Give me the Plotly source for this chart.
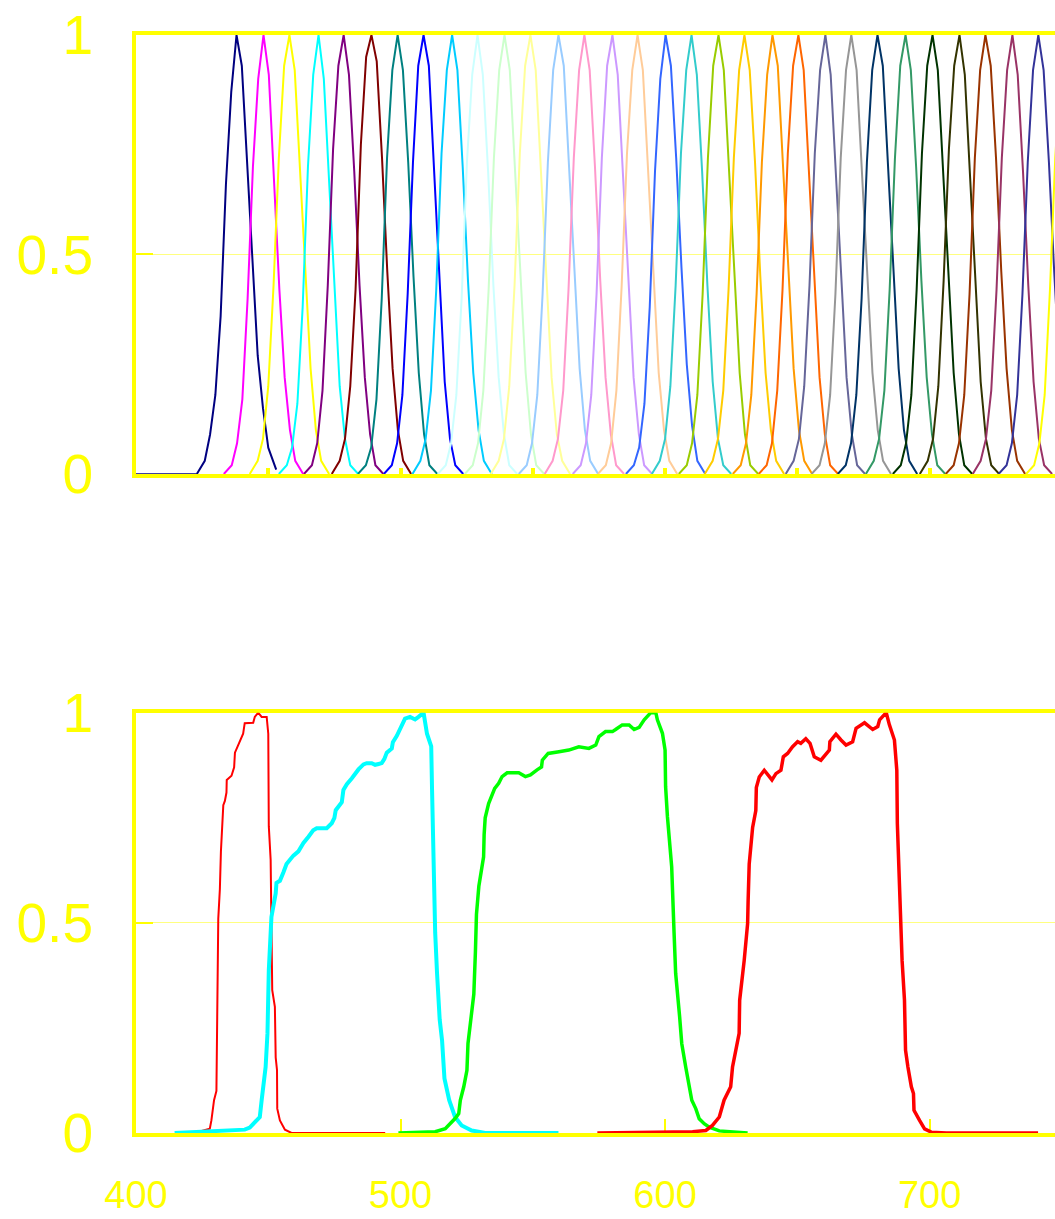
import plotly.graph_objects as go

# ---------------------------------------------------------------------------
# Upper panel: narrow-band filter set (peak wavelength, colour, transmission)
# ---------------------------------------------------------------------------
band_peak_nm = [438.0, 448.2, 458.0, 469.0, 478.5, 489.0, 498.9, 508.7, 519.5, 529.1,
                539.3, 549.1, 559.7, 569.5, 580.1, 589.6, 600.2, 610.0, 620.2, 630.0,
                640.6, 650.4, 660.6, 670.4, 680.3, 690.9, 701.1, 711.3, 721.1, 731.3,
                741.1, 751.5]

band_colors = ["#000080", "#FF00FF", "#FFFF00", "#00FFFF", "#800080", "#800000",
               "#008080", "#0000FF", "#00CCFF", "#CCFFFF", "#CCFFCC", "#FFFF99",
               "#99CCFF", "#FF99CC", "#CC99FF", "#FFCC99", "#3366FF", "#33CCCC",
               "#99CC00", "#FFCC00", "#FF9900", "#FF6600", "#666699", "#969696",
               "#003366", "#339966", "#003300", "#333300", "#993300", "#993366",
               "#333399", "#FFFF00"]

# sampling positions relative to each band's peak (nm)
band_offset_nm = [-15, -12, -10, -8, -6, -4, -2, 0, 2, 4, 6, 8, 10, 12, 15]

band_transmission = [
    [0, 0.03, 0.09, 0.18, 0.36, 0.66, 0.87, 1, 0.93, 0.70, 0.47, 0.27, 0.15, 0.06, 0.01],
    [0, 0.02, 0.07, 0.17, 0.40, 0.70, 0.90, 1, 0.91, 0.67, 0.42, 0.22, 0.10, 0.03, 0],
    [0, 0.03, 0.08, 0.20, 0.43, 0.72, 0.93, 1, 0.92, 0.70, 0.45, 0.24, 0.10, 0.03, 0],
    [0, 0.02, 0.06, 0.16, 0.38, 0.70, 0.91, 1, 0.90, 0.66, 0.41, 0.20, 0.08, 0.02, 0],
    [0, 0.02, 0.07, 0.19, 0.43, 0.74, 0.93, 1, 0.91, 0.69, 0.43, 0.22, 0.09, 0.02, 0],
    [0, 0.03, 0.08, 0.20, 0.42, 0.75, 0.95, 1, 0.94, 0.72, 0.46, 0.24, 0.10, 0.03, 0],
    [0, 0.02, 0.06, 0.17, 0.40, 0.72, 0.92, 1, 0.92, 0.71, 0.45, 0.23, 0.09, 0.02, 0],
    [0, 0.02, 0.07, 0.18, 0.41, 0.71, 0.93, 1, 0.93, 0.70, 0.44, 0.21, 0.08, 0.02, 0],
    [0, 0.03, 0.08, 0.19, 0.42, 0.73, 0.92, 1, 0.92, 0.70, 0.44, 0.23, 0.10, 0.03, 0],
    [0, 0.02, 0.07, 0.18, 0.40, 0.71, 0.91, 1, 0.91, 0.69, 0.43, 0.22, 0.09, 0.02, 0],
    [0, 0.02, 0.07, 0.19, 0.42, 0.72, 0.92, 1, 0.92, 0.70, 0.45, 0.23, 0.09, 0.02, 0],
    [0, 0.03, 0.08, 0.20, 0.43, 0.73, 0.93, 1, 0.92, 0.69, 0.44, 0.22, 0.09, 0.03, 0],
    [0, 0.02, 0.07, 0.18, 0.41, 0.71, 0.92, 1, 0.93, 0.71, 0.46, 0.24, 0.10, 0.03, 0],
    [0, 0.03, 0.08, 0.19, 0.42, 0.72, 0.92, 1, 0.92, 0.70, 0.44, 0.22, 0.09, 0.02, 0],
    [0, 0.02, 0.07, 0.18, 0.41, 0.72, 0.93, 1, 0.91, 0.68, 0.43, 0.22, 0.09, 0.02, 0],
    [0, 0.02, 0.07, 0.19, 0.43, 0.73, 0.92, 1, 0.92, 0.70, 0.45, 0.23, 0.10, 0.03, 0],
    [0, 0.02, 0.06, 0.16, 0.38, 0.69, 0.90, 1, 0.93, 0.72, 0.47, 0.25, 0.11, 0.03, 0],
    [0, 0.03, 0.08, 0.20, 0.43, 0.73, 0.92, 1, 0.91, 0.69, 0.43, 0.21, 0.08, 0.02, 0],
    [0, 0.02, 0.07, 0.18, 0.41, 0.72, 0.93, 1, 0.92, 0.70, 0.45, 0.23, 0.09, 0.02, 0],
    [0, 0.03, 0.08, 0.19, 0.42, 0.72, 0.92, 1, 0.92, 0.71, 0.45, 0.23, 0.10, 0.03, 0],
    [0, 0.02, 0.07, 0.18, 0.41, 0.71, 0.91, 1, 0.93, 0.71, 0.46, 0.24, 0.10, 0.03, 0],
    [0, 0.02, 0.07, 0.19, 0.42, 0.73, 0.93, 1, 0.92, 0.69, 0.44, 0.22, 0.09, 0.02, 0],
    [0, 0.03, 0.08, 0.20, 0.43, 0.73, 0.92, 1, 0.91, 0.69, 0.44, 0.22, 0.09, 0.02, 0],
    [0, 0.02, 0.07, 0.18, 0.41, 0.72, 0.92, 1, 0.92, 0.70, 0.45, 0.23, 0.10, 0.03, 0],
    [0, 0.02, 0.07, 0.18, 0.40, 0.71, 0.92, 1, 0.93, 0.71, 0.46, 0.24, 0.10, 0.03, 0],
    [0, 0.03, 0.08, 0.19, 0.42, 0.72, 0.93, 1, 0.92, 0.70, 0.44, 0.22, 0.09, 0.02, 0],
    [0, 0.02, 0.07, 0.18, 0.42, 0.73, 0.93, 1, 0.92, 0.70, 0.45, 0.23, 0.09, 0.02, 0],
    [0, 0.03, 0.08, 0.20, 0.44, 0.74, 0.93, 1, 0.91, 0.68, 0.43, 0.21, 0.08, 0.02, 0],
    [0, 0.02, 0.07, 0.18, 0.41, 0.72, 0.92, 1, 0.93, 0.72, 0.46, 0.24, 0.10, 0.03, 0],
    [0, 0.03, 0.08, 0.19, 0.42, 0.72, 0.92, 1, 0.91, 0.69, 0.43, 0.21, 0.08, 0.02, 0],
    [0, 0.02, 0.07, 0.18, 0.41, 0.71, 0.92, 1, 0.92, 0.71, 0.46, 0.24, 0.10, 0.03, 0],
    [0, 0.02, 0.07, 0.18, 0.42, 0.72, 0.92, 1, 0.92, 0.70, 0.45, 0.23, 0.09, 0.02, 0],
]

# flat zero baseline of the first band, running in from the left edge
band1_lead_nm = [400.0, 423.0]
band1_lead_t = [0.0, 0.0]

# ---------------------------------------------------------------------------
# Lower panel: four broad-band filters
# ---------------------------------------------------------------------------
f445_nm = [424.8, 427.9, 428.5, 429.5, 430.4, 430.7, 431.1, 431.7, 432.1, 433.0,
           433.6, 434.2, 434.3, 436.1, 437.1, 437.4, 438.4, 440.5, 441.1, 444.3,
           444.9, 446.2, 447.5, 449.4, 450.0, 450.2, 450.9, 451.2, 451.5, 452.5,
           452.8, 453.3, 453.4, 454.4, 456.3, 458.8, 494.2]
f445_t = [0.005, 0.01, 0.03, 0.078, 0.10, 0.24, 0.51, 0.58, 0.67, 0.78,
          0.79, 0.81, 0.84, 0.85, 0.87, 0.905, 0.92, 0.95, 0.975, 0.976,
          0.99, 1.0, 0.99, 0.99, 0.95, 0.73, 0.65, 0.52, 0.34, 0.30,
          0.18, 0.15, 0.058, 0.03, 0.008, 0.0, 0.0]

f505_nm = [414.6, 437.3, 441.1, 443.0, 444.3, 446.8, 447.5, 449.0, 449.7, 450.2,
           451.2, 451.9, 452.8, 453.1, 454.4, 455.7, 456.9, 458.2, 459.5, 461.4,
           463.3, 465.2, 467.0, 468.3, 472.1, 474.0, 475.0, 475.5, 477.8, 478.4,
           479.7, 481.6, 482.2, 484.1, 486.0, 487.2, 489.1, 490.4, 491.7, 492.9,
           493.9, 494.8, 496.7, 497.1, 498.6, 499.5, 500.5, 501.7, 503.6, 505.5,
           506.8, 508.7, 510.0, 511.6, 511.9, 512.5, 512.9, 513.1, 513.8, 514.8,
           515.7, 516.6, 518.4, 520.6, 523.1, 526.9, 532.0, 559.7]
f505_t = [0.0, 0.005, 0.008, 0.013, 0.022, 0.038, 0.078, 0.157, 0.237, 0.387,
          0.514, 0.538, 0.57, 0.595, 0.60, 0.62, 0.64, 0.65, 0.66, 0.67,
          0.69, 0.705, 0.72, 0.725, 0.725, 0.737, 0.75, 0.768, 0.787, 0.816,
          0.83, 0.844, 0.85, 0.865, 0.877, 0.88, 0.88, 0.876, 0.878, 0.88,
          0.89, 0.905, 0.915, 0.93, 0.945, 0.957, 0.97, 0.986, 0.99, 0.984,
          0.99, 1.0, 0.95, 0.92, 0.82, 0.65, 0.514, 0.476, 0.38, 0.27,
          0.22, 0.13, 0.078, 0.038, 0.018, 0.006, 0.0, 0.0]

f590_nm = [499.2, 513.1, 516.9, 519.4, 520.7, 522.0, 522.6, 523.9, 525.1, 525.5,
           526.4, 527.7, 528.3, 528.7, 529.6, 531.4, 531.6, 532.0, 533.3, 534.6,
           535.6, 537.1, 538.4, 540.3, 544.7, 547.2, 549.1, 551.6, 553.3, 553.6,
           555.8, 559.9, 563.6, 567.4, 571.2, 573.8, 575.0, 577.5, 580.1, 581.3,
           583.8, 586.4, 588.3, 590.2, 592.1, 594.6, 596.5, 597.1, 599.0, 600.0,
           600.2, 600.9, 601.5, 602.5, 603.4, 604.0, 605.5, 606.3, 607.8, 609.1,
           610.1, 611.6, 612.9, 614.8, 616.7, 620.5, 629.3, 631.2]
f590_t = [0.0, 0.003, 0.01, 0.026, 0.035, 0.046, 0.078, 0.11, 0.149, 0.213,
          0.268, 0.33, 0.43, 0.52, 0.587, 0.657, 0.71, 0.75, 0.784, 0.808,
          0.82, 0.832, 0.848, 0.857, 0.857, 0.848, 0.852, 0.864, 0.871, 0.887,
          0.903, 0.907, 0.911, 0.919, 0.915, 0.923, 0.943, 0.955, 0.955, 0.96,
          0.971, 0.971, 0.96, 0.965, 0.983, 1.0, 1.0, 0.983, 0.951, 0.911,
          0.824, 0.752, 0.713, 0.633, 0.476, 0.38, 0.277, 0.213, 0.157, 0.11,
          0.078, 0.058, 0.034, 0.022, 0.014, 0.005, 0.0, 0.0]

f680_nm = [574.4, 610.4, 615.4, 617.9, 620.5, 622.3, 624.8, 625.5, 628.0, 628.2,
           629.9, 631.2, 631.4, 631.8, 633.1, 634.3, 634.5, 635.6, 637.5, 640.4,
           641.9, 643.8, 644.7, 646.3, 648.2, 650.1, 651.3, 653.2, 654.8, 656.4,
           658.9, 660.8, 662.1, 662.3, 664.6, 666.5, 668.4, 670.9, 672.2, 675.4,
           678.5, 680.4, 681.1, 683.6, 684.8, 686.7, 687.6, 687.8, 688.4, 688.9,
           689.6, 690.5, 690.9, 691.8, 693.1, 693.9, 694.1, 696.2, 698.1, 700.6,
           706.3, 741.0]
f680_t = [0.0, 0.003, 0.006, 0.018, 0.038, 0.078, 0.11, 0.157, 0.237, 0.316,
          0.41, 0.498, 0.554, 0.64, 0.727, 0.767, 0.822, 0.847, 0.863, 0.84,
          0.855, 0.863, 0.895, 0.903, 0.919, 0.931, 0.927, 0.938, 0.927, 0.895,
          0.887, 0.9, 0.911, 0.931, 0.949, 0.935, 0.923, 0.931, 0.963, 0.976,
          0.96, 0.967, 0.983, 1.0, 0.971, 0.935, 0.863, 0.737, 0.633, 0.498,
          0.41, 0.316, 0.197, 0.157, 0.11, 0.094, 0.054, 0.03, 0.01, 0.002,
          0.0, 0.0]

broad_filters = [
    (f445_nm, f445_t, "#FF0000", 2),
    (f505_nm, f505_t, "#00FFFF", 4),
    (f590_nm, f590_t, "#00FF00", 3.5),
    (f680_nm, f680_t, "#FF0000", 3.5),
]

y_tick_vals = [0, 0.5, 1]
y_tick_text = ["0", "0.5", "1"]

YELLOW = "#FFFF00"
FONT = "Liberation Sans, Arial, sans-serif"

fig = go.Figure()

fig.add_trace(go.Scatter(
    x=band1_lead_nm, y=band1_lead_t, mode="lines",
    line=dict(color=band_colors[0], width=1.5),
    xaxis="x", yaxis="y", showlegend=False, hoverinfo="skip"))

for peak, color, trans in zip(band_peak_nm, band_colors, band_transmission):
    fig.add_trace(go.Scatter(
        x=[peak + d for d in band_offset_nm], y=trans,
        mode="lines", line=dict(color=color, width=2),
        xaxis="x", yaxis="y", showlegend=False, hoverinfo="skip"))

for nm, t, color, w in broad_filters:
    fig.add_trace(go.Scatter(
        x=nm, y=t, mode="lines", line=dict(color=color, width=w),
        xaxis="x2", yaxis="y2", showlegend=False, hoverinfo="skip"))

x_common = dict(range=[400, 747.4], showline=True, linecolor=YELLOW, linewidth=4,
                mirror=True, showgrid=False, zeroline=False, ticks="inside",
                tickcolor=YELLOW, tickmode="linear", tick0=400, automargin=False,
                layer="below traces", fixedrange=True)
y_common = dict(range=[0, 1], showline=True, linecolor=YELLOW, linewidth=4,
                mirror=False, showgrid=True, gridcolor="#FFFF80", gridwidth=1,
                zeroline=False, ticks="inside", ticklen=17, tickwidth=2,
                tickcolor=YELLOW, tickmode="array", tickvals=y_tick_vals,
                ticktext=y_tick_text, tickfont=dict(family=FONT, size=55, color=YELLOW),
                ticklabelstandoff=28, automargin=False, layer="below traces",
                fixedrange=True)

fig.update_layout(
    width=1055, height=1219,
    margin=dict(l=136, r=0, t=35, b=86, autoexpand=False),
    paper_bgcolor="white", plot_bgcolor="white",
    xaxis=dict(**x_common, domain=[0, 1], anchor="y", dtick=50, ticklen=6,
               tickwidth=4, showticklabels=False),
    yaxis=dict(**y_common, domain=[0.6002, 1], anchor="x"),
    xaxis2=dict(**x_common, domain=[0, 1], anchor="y2", dtick=100, ticklen=14,
                tickwidth=2, showticklabels=True,
                tickfont=dict(family=FONT, size=38, color=YELLOW),
                ticklabelstandoff=25),
    yaxis2=dict(**y_common, domain=[0, 0.3828], anchor="x2"),
)

fig.write_html("out.html")
